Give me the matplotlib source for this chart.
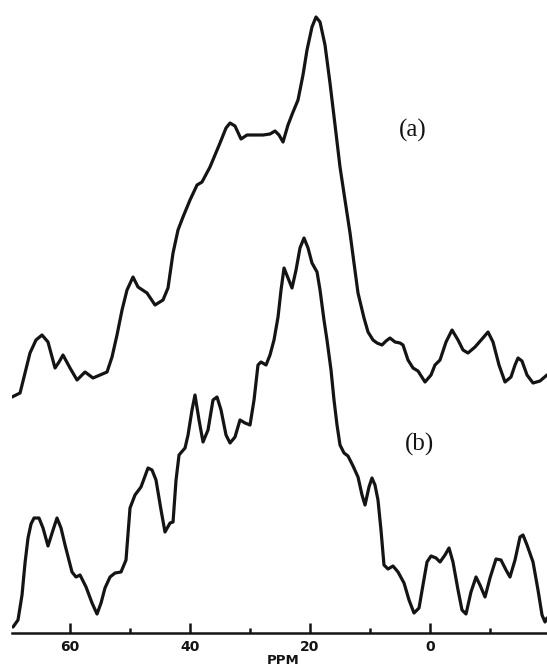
import matplotlib
matplotlib.use("Agg")
import matplotlib.pyplot as plt
from matplotlib.ticker import FixedLocator

# Chemical shift (ppm) and intensity (arbitrary units) for spectrum (a)
ppm_a = [69.67, 68.33, 66.67, 65.67, 64.67, 63.67, 62.5, 61.83, 61.17, 60.0,
         58.83, 57.5, 56.17, 55.0, 53.83, 53.0, 52.17, 51.33, 50.5, 49.5,
         48.67, 47.17, 45.83, 44.5, 43.67, 42.83, 42.0, 41.17, 40.0, 38.83,
         38.0, 36.67, 35.0, 34.0, 33.33, 32.5, 31.5, 30.5, 29.17, 27.83,
         26.67, 25.83, 25.17, 24.5, 23.67, 22.83, 22.0, 21.17, 20.5, 19.67,
         19.0, 18.33, 17.5, 16.67, 15.83, 15.0, 14.17, 13.33, 12.67, 12.0,
         11.0, 10.33, 9.5, 8.83, 8.0, 7.33, 6.67, 5.83, 5.0, 4.5,
         3.67, 2.83, 2.0, 0.83, -0.17, -0.83, -1.67, -2.67, -3.67, -4.67,
         -5.5, -6.33, -7.5, -8.67, -9.67, -10.5, -11.5, -12.5, -13.5, -14.17,
         -14.67, -15.33, -16.17, -17.17, -18.33, -19.5]
int_a = [236, 240, 280, 293, 298, 291, 265, 271, 278, 265,
         253, 261, 255, 258, 261, 276, 298, 323, 343, 356,
         346, 340, 328, 333, 345, 380, 403, 416, 433, 448,
         451, 466, 490, 505, 510, 507, 494, 498, 498, 498,
         499, 502, 498, 491, 508, 521, 533, 558, 583, 606,
         616, 611, 588, 550, 508, 466, 433, 400, 370, 340,
         315, 301, 293, 290, 288, 292, 295, 291, 290, 288,
         273, 265, 262, 251, 258, 268, 273, 291, 303, 293,
         283, 280, 286, 294, 301, 291, 268, 251, 256, 268,
         275, 272, 258, 250, 252, 258]

# Chemical shift (ppm) and intensity (arbitrary units) for spectrum (b)
ppm_b = [69.5, 68.67, 68.0, 67.5, 67.0, 66.5, 66.0, 65.17, 64.5, 63.67,
         62.83, 62.17, 61.5, 60.83, 59.67, 59.0, 58.33, 57.33, 56.33, 55.5,
         54.83, 54.17, 53.33, 52.5, 51.5, 50.67, 50.0, 49.17, 48.17, 47.0,
         46.33, 45.67, 44.83, 44.17, 43.33, 42.83, 42.33, 41.83, 40.83, 40.33,
         39.67, 39.17, 38.5, 37.83, 37.0, 36.17, 35.5, 34.83, 34.0, 33.33,
         32.5, 31.67, 30.83, 30.0, 29.33, 28.67, 28.17, 27.33, 26.67, 26.0,
         25.33, 24.83, 24.33, 23.67, 23.0, 22.33, 21.67, 21.0, 20.33, 19.67,
         18.83, 18.33, 17.67, 17.17, 16.5, 16.0, 15.5, 15.0, 14.33, 13.67,
         12.83, 12.0, 11.33, 10.83, 10.17, 9.67, 9.17, 8.67, 8.17, 7.67,
         7.0, 6.17, 5.33, 4.33, 3.5, 2.67, 1.83, 1.17, 0.5, -0.17,
         -1.0, -1.67, -2.5, -3.17, -3.83, -4.67, -5.33, -6.0, -6.83, -7.67,
         -8.33, -9.17, -10.0, -11.0, -11.83, -12.67, -13.33, -14.17, -15.0, -15.5,
         -16.17, -17.17, -18.0, -18.67, -19.17, -19.5]
int_b = [6, 13, 38, 70, 95, 109, 115, 115, 105, 87,
         103, 115, 105, 88, 61, 56, 58, 46, 30, 19,
         30, 45, 56, 60, 61, 73, 125, 138, 146, 165,
         163, 153, 123, 101, 110, 111, 153, 178, 185, 198,
         223, 238, 213, 191, 203, 233, 236, 223, 198, 190,
         196, 213, 210, 208, 233, 268, 271, 268, 278, 293,
         316, 343, 365, 355, 345, 363, 385, 395, 385, 370,
         361, 343, 313, 293, 263, 233, 208, 188, 180, 177,
         167, 156, 138, 128, 146, 155, 148, 133, 103, 68,
         64, 67, 61, 50, 33, 20, 25, 48, 71, 77,
         75, 71, 78, 85, 71, 43, 23, 19, 41, 56,
         48, 36, 55, 74, 73, 63, 56, 73, 96, 98,
         88, 71, 43, 18, 11, 15]

major_ticks = [60, 40, 20, 0]
minor_ticks = [50, 30, 10, -10]
tick_labels = ["60", "40", "20", "0"]

W, H = 547, 666
fig = plt.figure(figsize=(W / 100, H / 100), dpi=100)
fig.patch.set_facecolor("white")
ax = fig.add_axes([12 / W, 33 / H, 535 / W, 633 / H])
ax.set_facecolor("white")

ink = "#141414"
line_kw = dict(color=ink, lw=2.3, solid_joinstyle="round", solid_capstyle="round")
ax.plot(ppm_a, int_a, **line_kw)
ax.plot(ppm_b, int_b, **line_kw)

ax.set_xlim(69.67, -19.5)
ax.set_ylim(0, 633)

for side in ("top", "right", "left"):
    ax.spines[side].set_visible(False)
ax.spines["bottom"].set_linewidth(1.8)
ax.spines["bottom"].set_color(ink)

ax.xaxis.set_major_locator(FixedLocator(major_ticks))
ax.xaxis.set_minor_locator(FixedLocator(minor_ticks))
ax.set_xticklabels(tick_labels, fontsize=10, fontweight="bold", color=ink)
ax.tick_params(axis="x", which="major", direction="in", length=7, width=1.8,
               color=ink, pad=5)
ax.tick_params(axis="x", which="minor", direction="in", length=3.5, width=1.8,
               color=ink)
ax.set_yticks([])

fig.text(283 / W, 1 - 661 / H, "PPM", ha="center", va="center",
         fontsize=9.5, fontweight="bold", color=ink)

ax.text(2.83, 503, "(a)", ha="center", va="center", fontsize=18,
        family="Liberation Serif", color=ink)
ax.text(1.67, 189, "(b)", ha="center", va="center", fontsize=18,
        family="Liberation Serif", color=ink)

fig.savefig("out.png", dpi=100, facecolor="white")
